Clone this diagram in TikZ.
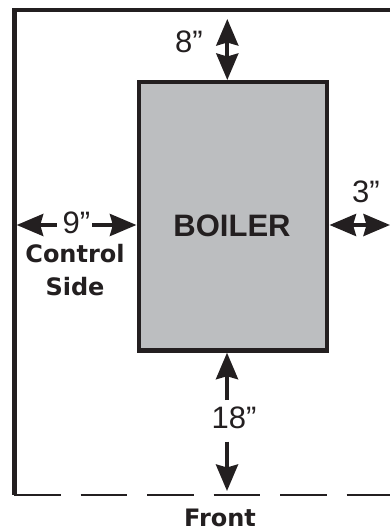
\documentclass[tikz,border=0pt]{standalone}
\usepackage{fontspec}
\setmainfont{Liberation Sans}
\newfontfamily\labelbold{DejaVu Sans}[BoldFont={DejaVu Sans Bold}]
\usetikzlibrary{arrows.meta}
\definecolor{ink}{HTML}{231F20}
\definecolor{boilergrey}{HTML}{BCBEC0}
\tikzset{
  x=1pt,y=-1pt,
  wall/.style={draw=ink,line width=4.4pt},
  frontline/.style={draw=ink,line width=2pt},
  boilerbox/.style={draw=ink,line width=4.5pt,fill=boilergrey,minimum width=188pt,minimum height=268.3pt,inner sep=0pt,outer sep=2.25pt},
  dimarrow/.style={draw=ink,line width=3.8pt,-{Stealth[length=26.5pt,width=22pt,inset=3pt,fill=ink]}},
  dimtext/.style={text=ink,inner sep=0pt,font=\fontsize{31}{31}\selectfont},
  boldtext/.style={text=ink,inner sep=0pt,align=center,font=\labelbold\bfseries\fontsize{24}{32.5}\selectfont},
}
\begin{document}
\begin{tikzpicture}
\useasboundingbox (0,0) rectangle (390,529);
% walls
\coordinate (tr) at (390,10.3);
\coordinate (tl) at (14.5,10.3);
\coordinate (bl) at (14.5,495);
\coordinate (br) at (390,495);
\draw[wall,line cap=butt,line join=miter] (tr) -- (tl) -- (bl);
\draw[frontline,dash pattern=on 46.5pt off 20pt] (14,495) -- (br);
% boiler
\node[boilerbox] (boiler) at (233,216.35) {};
\node[text=ink,inner sep=0pt,font=\bfseries\fontsize{31}{31}\selectfont] (boilertext) at (232,226) {BOILER};
% 8 inch
\coordinate (t8) at (227.3,19);
\coordinate (b8) at (227.3,80);
\coordinate (m8) at (227.3,49);
\draw[dimarrow] (m8) -- (t8);
\draw[dimarrow] (m8) -- (b8);
\node[dimtext] (l8) at (189,42) {8"};
% 3 inch
\coordinate (l3) at (329.5,225);
\coordinate (r3) at (390,225);
\coordinate (m3) at (360,225);
\draw[dimarrow] (m3) -- (l3);
\draw[dimarrow] (m3) -- (r3);
\node[dimtext] (t3) at (366,192) {3"};
% 9 inch
\coordinate (l9) at (16.7,225);
\coordinate (r9) at (136.4,225);
\node[dimtext] (t9) at (76.5,223) {9"};
\draw[dimarrow] (56.7,225) -- (l9);
\draw[dimarrow] (92,225) -- (r9);
% 18 inch
\coordinate (t18) at (227,352.7);
\coordinate (b18) at (227,491);
\node[dimtext] (l18) at (234,418) {18"};
\draw[dimarrow] (227,400) -- (t18);
\draw[dimarrow] (227,441.7) -- (b18);
% labels
\node[boldtext] (side) at (75,270) {Control\\Side};
\node[boldtext] (front) at (220,518) {Front};
\end{tikzpicture}
\end{document}
